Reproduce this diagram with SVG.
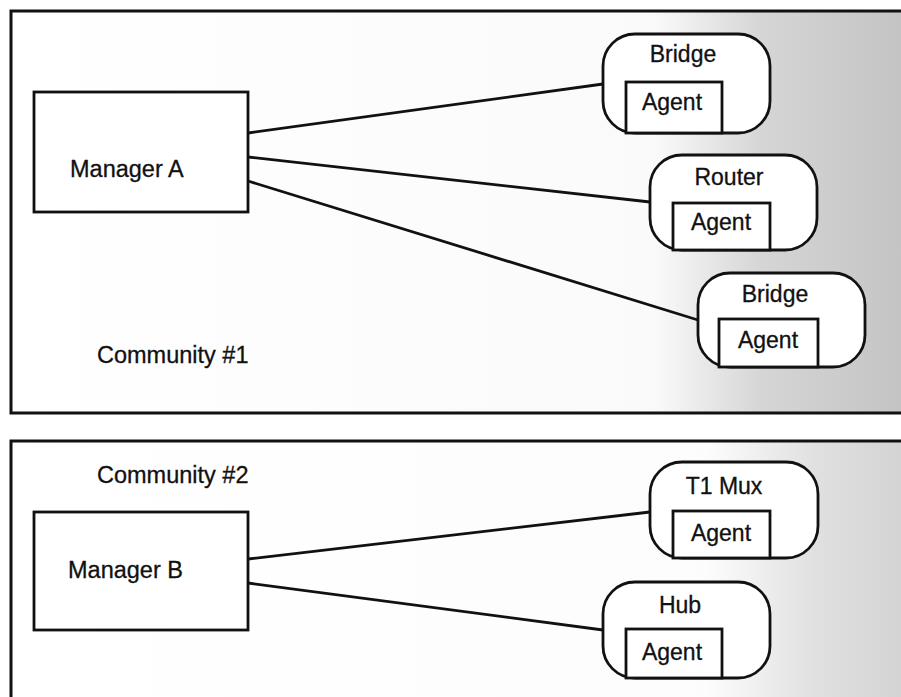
<svg xmlns="http://www.w3.org/2000/svg" width="901" height="697" viewBox="0 0 901 697">
  <style>
    .frame { fill: none; stroke: #111; stroke-width: 3; }
    .mgr { fill: #fff; stroke: #111; stroke-width: 2.8; }
    .dev { fill: #fff; stroke: #111; stroke-width: 2.8; }
    .agent { fill: #fff; stroke: #111; stroke-width: 2.8; }
    .link { stroke: #111; stroke-width: 2.8; fill: none; }
    text { font-family: "Liberation Sans", Arial, Helvetica, sans-serif; fill: #111; stroke: #111; stroke-width: 0.3; }
    .lbl { font-size: 23px; }
    .big { font-size: 23.5px; }
    .mid { text-anchor: middle; }
  </style>
  <defs>
    <!-- halftone shading that deepens towards the right edge -->
    <linearGradient id="shadeTop" x1="0" y1="0" x2="1" y2="0">
      <stop offset="0" stop-color="#c4c4c4" stop-opacity="0"/>
      <stop offset="0.72" stop-color="#c4c4c4" stop-opacity="0.08"/>
      <stop offset="0.84" stop-color="#c4c4c4" stop-opacity="0.7"/>
      <stop offset="1" stop-color="#c4c4c4" stop-opacity="1"/>
    </linearGradient>
    <linearGradient id="shadeBottom" x1="0" y1="0" x2="1" y2="0">
      <stop offset="0" stop-color="#cccccc" stop-opacity="0"/>
      <stop offset="0.78" stop-color="#cccccc" stop-opacity="0.05"/>
      <stop offset="0.9" stop-color="#cccccc" stop-opacity="0.6"/>
      <stop offset="1" stop-color="#cccccc" stop-opacity="0.85"/>
    </linearGradient>
  </defs>

  <rect width="901" height="697" fill="#fff"/>

  <!-- community panels -->
  <g id="community1">
    <rect x="11" y="11" width="892" height="402" fill="url(#shadeTop)"/>
    <rect x="11" y="11" width="895" height="402" class="frame"/>
    <text class="big" x="97" y="363">Community #1</text>
  </g>
  <g id="community2">
    <rect x="11" y="441" width="892" height="260" fill="url(#shadeBottom)"/>
    <rect x="11" y="441" width="895" height="265" class="frame"/>
    <text class="big" x="97" y="483">Community #2</text>
  </g>

  <!-- connectors -->
  <g id="connectors">
    <line class="link" x1="248" y1="133" x2="603" y2="84"/>
    <line class="link" x1="248" y1="157" x2="650" y2="202"/>
    <line class="link" x1="248" y1="181" x2="698" y2="320"/>
    <line class="link" x1="248" y1="559" x2="650" y2="512"/>
    <line class="link" x1="248" y1="583" x2="603" y2="630"/>
  </g>

  <!-- managers -->
  <g id="managerA">
    <rect class="mgr" x="34" y="92" width="214" height="120"/>
    <text class="big" x="70" y="177">Manager A</text>
  </g>
  <g id="managerB">
    <rect class="mgr" x="34" y="512" width="214" height="118"/>
    <text class="big" x="68" y="578">Manager B</text>
  </g>

  <!-- managed devices -->
  <g id="bridge1">
    <rect class="dev" x="603" y="34" width="167" height="99" rx="32" ry="32"/>
    <rect class="agent" x="626" y="82" width="96" height="51"/>
    <text class="lbl mid" x="683" y="62">Bridge</text>
    <text class="lbl mid" x="672" y="110">Agent</text>
  </g>
  <g id="router">
    <rect class="dev" x="650" y="155" width="167" height="95" rx="32" ry="32"/>
    <rect class="agent" x="673" y="203" width="97" height="47"/>
    <text class="lbl mid" x="729" y="185">Router</text>
    <text class="lbl mid" x="721" y="230">Agent</text>
  </g>
  <g id="bridge2">
    <rect class="dev" x="698" y="273" width="167" height="94" rx="32" ry="32"/>
    <rect class="agent" x="719" y="319" width="99" height="48"/>
    <text class="lbl mid" x="775" y="302">Bridge</text>
    <text class="lbl mid" x="768" y="348">Agent</text>
  </g>
  <g id="t1mux">
    <rect class="dev" x="650" y="462" width="168" height="96" rx="32" ry="32"/>
    <rect class="agent" x="673" y="511" width="97" height="47"/>
    <text class="lbl mid" x="724" y="494">T1 Mux</text>
    <text class="lbl mid" x="721" y="541">Agent</text>
  </g>
  <g id="hub">
    <rect class="dev" x="603" y="582" width="167" height="96" rx="32" ry="32"/>
    <rect class="agent" x="626" y="629" width="96" height="49"/>
    <text class="lbl mid" x="680" y="613">Hub</text>
    <text class="lbl mid" x="672" y="660">Agent</text>
  </g>
</svg>
